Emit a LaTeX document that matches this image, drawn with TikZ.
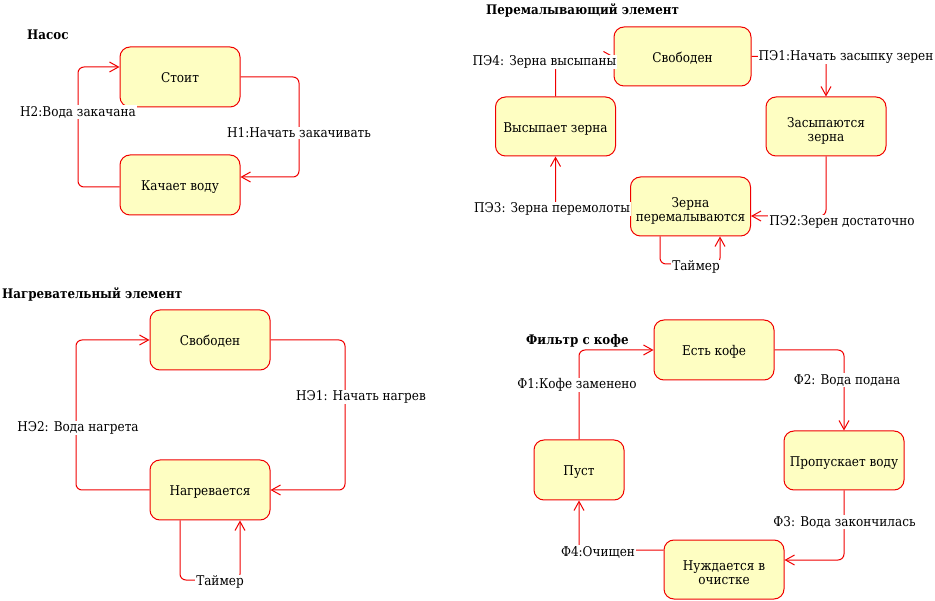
\documentclass[tikz,border=0pt]{standalone}
\usepackage{fontspec}
\setmainfont{DejaVu Serif Condensed}
\usetikzlibrary{arrows.meta}
\definecolor{boxfill}{HTML}{FEFEC2}
\definecolor{boxline}{HTML}{F00000}
\tikzset{
  state/.style={draw=boxline, fill=boxfill, line width=1pt, rounded corners=10pt,
    minimum width=120pt, minimum height=60pt, inner sep=0pt, align=center,
    font=\fontsize{13.4}{14.5}\selectfont, text height=12pt, text depth=0pt},
  twoline/.style={text height=30.5pt},
  tr/.style={draw=boxline, line width=1pt, rounded corners=6pt,
    -{Straight Barb[length=9pt,width=10pt,line width=1pt]}},
  lbl/.style={fill=white, inner sep=1pt, font=\fontsize{13.4}{14.5}\selectfont},
  ttl/.style={anchor=west, inner sep=0pt, font=\fontsize{13.2}{14.5}\selectfont\bfseries},
}
\begin{document}
\begin{tikzpicture}[x=1pt,y=-1pt]
\useasboundingbox (0,0) rectangle (935,601);
% titles
\node[ttl] (t1) at (27,35) {Насос};
\node[ttl] (t2) at (486,10) {Перемалывающий элемент};
\node[ttl] (t3) at (2,294) {Нагревательный элемент};
\node[ttl] (t4) at (526,341) {Фильтр с кофе};
% pump
\node[state] (stoit) at (180,77) {Стоит};
\node[state] (kach) at (180,185) {Качает воду};
% grinder
\node[state, minimum width=137pt, minimum height=59pt] (svob1) at (682.5,56.5) {Свободен};
\node[state, twoline, minimum height=59pt] (zasyp) at (826,126.5) {Засыпаются\\зерна};
\node[state, minimum height=59pt] (vysyp) at (555.5,126.5) {Высыпает зерна};
\node[state, twoline, minimum height=59pt] (pere) at (690.5,206.5) {Зерна\\перемалываются};
% heater
\node[state] (svob2) at (210,340) {Свободен};
\node[state] (nagr) at (210,490) {Нагревается};
% filter
\node[state] (est) at (714,350) {Есть кофе};
\node[state, minimum height=59pt] (prop) at (844,460.5) {Пропускает воду};
\node[state, twoline, minimum height=59pt] (nuzh) at (724,569.5) {Нуждается в\\очистке};
\node[state, minimum width=90pt] (pust) at (579,470) {Пуст};
% pump transitions
\draw[tr] (stoit.east) -| (299,177) -- (kach.east |- 0,177);
\draw[tr] (kach.west |- 0,187) -| (78,67) -- (stoit.west |- 0,67);
% grinder transitions
\draw[tr] (svob1.east) -| (zasyp.north);
\draw[tr] (zasyp.south) |- (pere.east |- 0,216);
\draw[tr] (pere.west |- 0,209) -| (vysyp.south);
\draw[tr] (vysyp.north) |- (svob1.west);
\draw[tr] (pere.south -| 660,0) |- (720,264) -- (pere.south -| 720,0);
% heater transitions
\draw[tr] (svob2.east) -| (345,490) -- (nagr.east);
\draw[tr] (nagr.west) -| (76,340) -- (svob2.west);
\draw[tr] (nagr.south -| 180,0) |- (240,580) -- (nagr.south -| 240,0);
% filter transitions
\draw[tr] (est.east) -| (prop.north);
\draw[tr] (prop.south) |- (nuzh.east |- 0,560);
\draw[tr] (nuzh.west |- 0,550) -| (pust.south);
\draw[tr] (pust.north) |- (est.west);
% labels
\node[lbl] (l1) at (299,133) {Н1:Начать закачивать};
\node[lbl] (l2) at (78,112) {Н2:Вода закачана};
\node[lbl] (l3) at (846,57) {ПЭ1:Начать засыпку зерен};
\node[lbl] (l4) at (842,222) {ПЭ2:Зерен достаточно};
\node[lbl] (l5) at (552,209) {ПЭ3: Зерна перемолоты};
\node[lbl] (l6) at (544.5,62) {ПЭ4: Зерна высыпаны};
\node[lbl] (l7) at (696,267) {Таймер};
\node[lbl] (l8) at (361,397) {НЭ1: Начать нагрев};
\node[lbl] (l9) at (78,428) {НЭ2: Вода нагрета};
\node[lbl] (l10) at (220,582) {Таймер};
\node[lbl] (l11) at (847,380) {Ф2: Вода подана};
\node[lbl] (l12) at (844.5,522) {Ф3: Вода закончилась};
\node[lbl] (l13) at (598,552) {Ф4:Очищен};
\node[lbl] (l14) at (577,385) {Ф1:Кофе заменено};
\end{tikzpicture}
\end{document}
